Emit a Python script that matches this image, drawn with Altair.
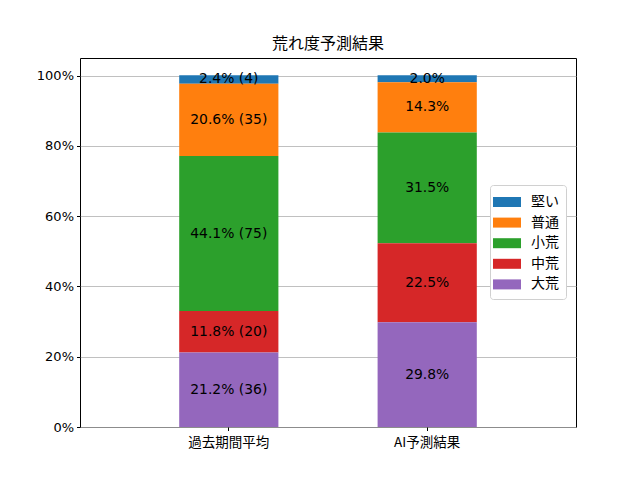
import altair as alt
import pandas as pd

categories = ["過去期間平均", "AI予測結果"]
levels = ["堅い", "普通", "小荒", "中荒", "大荒"]
colors = ["#1f77b4", "#ff7f0e", "#2ca02c", "#d62728", "#9467bd"]
past_pct = [2.4, 20.6, 44.1, 11.8, 21.2]
past_cnt = [4, 35, 75, 20, 36]
ai_pct = [2.0, 14.3, 31.5, 22.5, 29.8]

rows = []
for i, lv in enumerate(levels):
    rows.append({"cat": categories[0], "level": lv, "pct": past_pct[i] / 100,
                 "ord": len(levels) - i, "label": f"{past_pct[i]:.1f}% ({past_cnt[i]})"})
    rows.append({"cat": categories[1], "level": lv, "pct": ai_pct[i] / 100,
                 "ord": len(levels) - i, "label": f"{ai_pct[i]:.1f}%"})
df = pd.DataFrame(rows)

JP = "Noto Sans CJK JP"
NUM = "DejaVu Sans"

base = alt.Chart(df).transform_stack(
    stack="pct", groupby=["cat"], as_=["y0", "y1"],
    sort=[alt.SortField("ord", order="ascending")]
).transform_calculate(mid="(datum.y0 + datum.y1) / 2")

x = alt.X("cat:N", sort=categories, title=None,
          scale=alt.Scale(paddingInner=0.5, paddingOuter=0.5),
          axis=alt.Axis(labelAngle=0, labelFont=JP, labelFontSize=13.5, labelColor="black",
                        tickColor="black", tickSize=3.5, labelPadding=5, domain=False, grid=False))

bars = base.mark_bar().encode(
    x=x,
    y=alt.Y("y0:Q", title=None,
            scale=alt.Scale(domain=[0, 1.05], nice=False, zero=True),
            axis=alt.Axis(values=[0, 0.2, 0.4, 0.6, 0.8, 1.0], format=".0%",
                          labelFont=NUM, labelFontSize=13, labelColor="black",
                          tickColor="black", tickSize=3.5, labelPadding=3, domain=False,
                          grid=True, gridColor="#b0b0b0", gridWidth=0.8)),
    y2="y1:Q",
    color=alt.Color("level:N", sort=levels,
                    scale=alt.Scale(domain=levels, range=colors),
                    legend=alt.Legend(title=None, orient="none", legendX=410, legendY=127,
                                      symbolType="M-1.4,-0.5H1.4V0.5H-1.4Z", symbolSize=400,
                                      symbolStrokeWidth=0, symbolOpacity=1,
                                      labelFont=JP, labelFontSize=14, labelColor="black",
                                      labelOffset=14, rowPadding=3.6,
                                      padding=7, cornerRadius=3, strokeColor="#d0d0d0",
                                      fillColor="white")),
)

texts = base.mark_text(font=NUM, fontSize=13.9, color="black", baseline="middle").encode(
    x=alt.X("cat:N", sort=categories),
    y=alt.Y("mid:Q"),
    text="label:N",
)

chart = alt.layer(bars, texts).properties(
    width=496, height=369,
    title=alt.TitleParams("荒れ度予測結果", font=JP, fontSize=16, fontWeight="normal",
                          color="black", anchor="middle", offset=6),
    autosize=alt.AutoSizeParams(type="none"),
    padding={"left": 72, "top": 50, "right": 56, "bottom": 45},
).configure_view(stroke="black", strokeWidth=1).configure_axis(gridOpacity=1)

chart.save("out.html", embed_options={"renderer": "svg", "actions": False})
